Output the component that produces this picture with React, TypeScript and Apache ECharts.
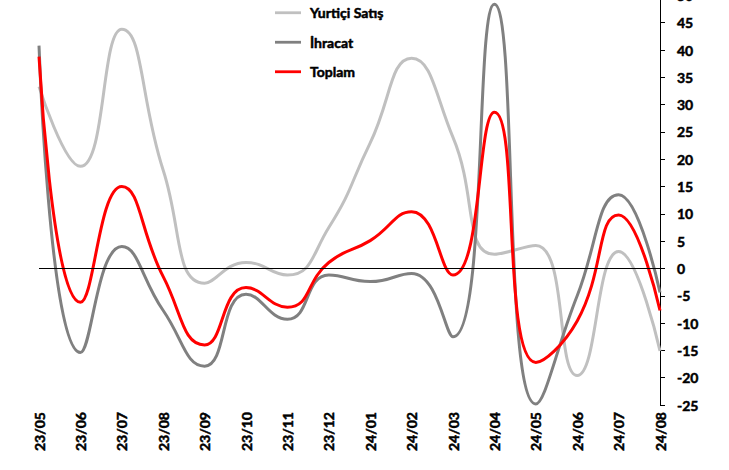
import React, { useEffect, useRef } from "react";
import * as echarts from "echarts";

const categories = ["23/05","23/06","23/07","23/08","23/09","23/10","23/11","23/12","24/01","24/02","24/03","24/04","24/05","24/06","24/07","24/08"];
const yurtici = [33.3, 18.7, 43.8, 18.0, -2.7, 1.1, -1.2, 7.5, 23.0, 38.5, 24.0, 2.6, 4.2, -19.6, 3.1, -15.1];
const ihracat = [40.8, -15.4, 4.0, -7.7, -17.9, -4.7, -9.3, -1.2, -2.4, -0.9, -12.5, 48.4, -24.8, -5.0, 13.5, -4.4];
const toplam = [38.8, -6.2, 15.0, -1.5, -14.0, -3.5, -7.1, 1.1, 5.1, 10.4, -1.2, 28.6, -17.2, -9.6, 9.8, -7.7];

const FONT = "Lato, 'Open Sans', sans-serif";
const SHIFT = 12;
const TXT = {
  fontFamily: FONT,
  fontWeight: "bold",
  fontSize: 14,
  color: "#000",
  textBorderColor: "#000",
  textBorderWidth: 0.5,
};

export default function App() {
  const ref = useRef<HTMLDivElement>(null);
  useEffect(() => {
    if (!ref.current) return;
    const chart = echarts.init(ref.current, null, { renderer: "svg" });
    const mkSeries = (name: string, data: number[], color: string, extra: any = {}) => ({
      name,
      type: "line",
      data,
      smooth: 0.5,
      symbol: "none",
      lineStyle: { color, width: 3 },
      itemStyle: { color },
      ...extra,
    });
    chart.setOption({
      animation: false,
      backgroundColor: "#ffffff",
      grid: { left: 39, right: 69, top: SHIFT - 4.6, bottom: 65, containLabel: false },
      legend: {
        orient: "vertical",
        left: 270,
        top: SHIFT + 0.5,
        itemWidth: 26,
        itemHeight: 14,
        itemGap: 15,
        icon: "path://M0,6 L26,6 L26,8.8 L0,8.8 Z",
        data: ["Yurtiçi Satış", "İhracat", "Toplam"],
        textStyle: { ...TXT, fontSize: 14, padding: [0, 0, 0, 4] },
      },
      xAxis: {
        type: "category",
        data: categories,
        boundaryGap: false,
        axisLine: { show: false },
        axisTick: { show: false },
        axisLabel: { ...TXT, rotate: 90, margin: 7 },
        splitLine: { show: false },
      },
      yAxis: {
        type: "value",
        position: "right",
        min: -25,
        max: 50,
        interval: 5,
        axisLine: { show: true, lineStyle: { color: "#000", width: 1 } },
        axisTick: { show: true, inside: false, length: 5, lineStyle: { color: "#000" } },
        axisLabel: { ...TXT, margin: 17 },
        splitLine: { show: false },
      },
      series: [
        mkSeries("Yurtiçi Satış", yurtici, "#c0c0c0", {
          markLine: {
            silent: true,
            symbol: ["none", "none"],
            label: { show: false },
            lineStyle: { color: "#000", width: 1, type: "solid" },
            data: [{ yAxis: 0 }],
          },
        }),
        mkSeries("İhracat", ihracat, "#808080"),
        mkSeries("Toplam", toplam, "#ff0000"),
      ],
    });
    return () => chart.dispose();
  }, []);
  return (
    <div
      ref={ref}
      style={{ width: 729, height: 470 + SHIFT, position: "absolute", left: 0, top: -SHIFT }}
    />
  );
}
